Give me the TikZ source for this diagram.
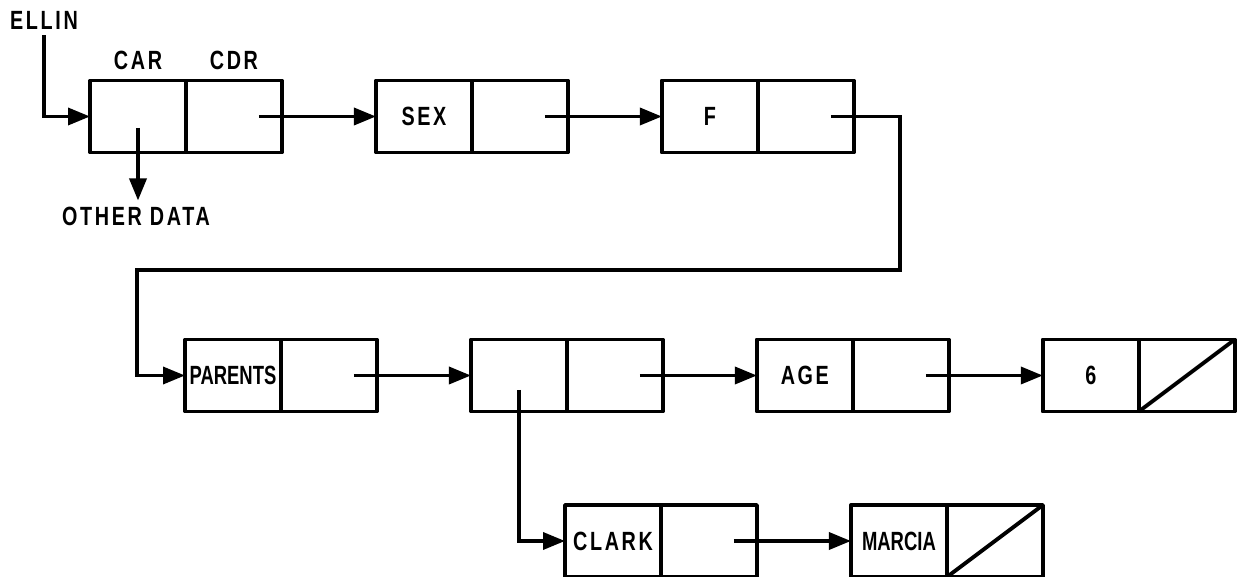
\documentclass[tikz,border=0pt]{standalone}
\usepackage{fontspec}
\setmainfont{Liberation Sans}[FakeStretch=0.75, LetterSpace=10]
\newfontfamily\narrowfont{Liberation Sans}[FakeStretch=0.7]
\usetikzlibrary{arrows.meta,positioning}

\begin{document}
\begin{tikzpicture}[
    x=0.02cm, y=-0.02cm,
    node distance=1.88cm,
    every node/.style={font=\fontsize{15}{18}\selectfont\bfseries},
    car/.style={rectangle, draw, line width=2.2pt, line join=round,
                minimum width=1.92cm, minimum height=1.44cm,
                inner sep=0pt, outer sep=0pt},
    cdr/.style={car},
    ptr/.style={-{Triangle[length=0.44cm, width=0.34cm]}, line width=2pt},
    nil/.style={line width=2.2pt},
]
\useasboundingbox (0,0) rectangle (1242,577);

% Row 1
\node (ellin) at (44,20) {ELLIN};
\node[car] (ellinA) at (138,116.5) {};
\node[cdr, right=0pt of ellinA] (ellinD) {};
\node[car, right=of ellinD] (sexA) {SEX};
\node[cdr, right=0pt of sexA]  (sexD) {};
\node[car, right=of sexD]  (fA) {F};
\node[cdr, right=0pt of fA]    (fD) {};
\node[above=0.1cm of ellinA] (carlbl) {CAR};
\node[above=0.1cm of ellinD] (cdrlbl) {CDR};
\node (other) at (136,216) {OTHER DATA};

% Row 2
\node[car] (parentsA) at (233,375.5) {\narrowfont PARENTS};
\node[cdr, right=0pt of parentsA] (parentsD) {};
\node[car, right=of parentsD] (blankA) {};
\node[cdr, right=0pt of blankA] (blankD) {};
\node[car, right=of blankD] (ageA) {AGE};
\node[cdr, right=0pt of ageA]  (ageD) {};
\node[car, right=of ageD]  (sixA) {6};
\node[cdr, right=0pt of sixA]  (sixD) {};

% Row 3
\node[car] (clarkA) at (613,541) {CLARK};
\node[cdr, right=0pt of clarkA] (clarkD) {};
\node[car, right=of clarkD] (marciaA) {\narrowfont MARCIA};
\node[cdr, right=0pt of marciaA] (marciaD) {};

% Bend points
\coordinate (bendR) at (900,270);
\coordinate (bendL) at (137,270);

% Pointers
\draw[ptr] (ellin) |- (ellinA.west);
\draw[ptr] ([yshift=-0.23cm]ellinA.center) -- (ellinA.center |- other.north);
\draw[ptr] ([xshift=0.5cm]ellinD.center) -- (sexA.west);
\draw[ptr] ([xshift=0.5cm]sexD.center) -- (fA.west);
\draw[ptr] ([xshift=0.5cm]fD.center) -| (bendR) -- (bendL) |- (parentsA.west);
\draw[ptr] ([xshift=0.5cm]parentsD.center) -- (blankA.west);
\draw[ptr] ([xshift=0.5cm]blankD.center) -- (ageA.west);
\draw[ptr] ([xshift=0.5cm]ageD.center) -- (sixA.west);
\draw[ptr] ([yshift=-0.29cm]blankA.center) |- (clarkA.west);
\draw[ptr] ([xshift=0.5cm]clarkD.center) -- (marciaA.west);

% Nil ends
\draw[nil] (sixD.south west) -- (sixD.north east);
\draw[nil] (marciaD.south west) -- (marciaD.north east);

\end{tikzpicture}
\end{document}
